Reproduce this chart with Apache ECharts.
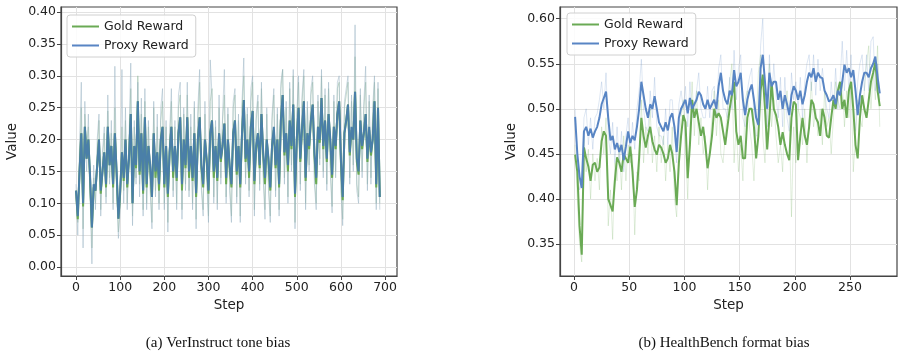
<!DOCTYPE html>
<html>
<head>
<meta charset="utf-8">
<script src="https://cdn.jsdelivr.net/npm/echarts@6/dist/echarts.min.js"></script>
<style>
  html, body { margin: 0; padding: 0; background: #fff; }
  #chart { width: 904px; height: 358px; }
</style>
</head>
<body>
<div id="chart"></div>
<script>
// ---- (a) VerInstruct tone bias : one point every 4 steps, starting at step 0
const leftStart = 0;
const leftEvery = 4;
const leftProxy = [0.12,0.08,0.15,0.21,0.10,0.22,0.17,0.20,0.14,0.062,
  0.13,0.12,0.16,0.20,0.12,0.15,0.18,0.13,0.22,0.16,
  0.19,0.13,0.21,0.15,0.076,0.12,0.18,0.14,0.20,0.13,
  0.17,0.24,0.10,0.19,0.16,0.26,0.15,0.21,0.12,0.235,
  0.13,0.19,0.16,0.11,0.21,0.15,0.18,0.13,0.20,0.22,
  0.13,0.19,0.115,0.18,0.22,0.15,0.19,0.14,0.21,0.235,
  0.13,0.20,0.16,0.235,0.15,0.19,0.14,0.21,0.116,0.20,
  0.235,0.16,0.13,0.20,0.17,0.12,0.21,0.23,0.15,0.19,
  0.14,0.21,0.17,0.19,0.225,0.14,0.20,0.16,0.13,0.21,
  0.23,0.15,0.19,0.13,0.21,0.262,0.17,0.20,0.15,0.22,
  0.245,0.135,0.19,0.21,0.16,0.24,0.18,0.14,0.20,0.17,
  0.125,0.19,0.22,0.16,0.20,0.13,0.23,0.27,0.18,0.21,
  0.16,0.23,0.19,0.255,0.115,0.20,0.25,0.17,0.22,0.26,
  0.14,0.21,0.19,0.23,0.255,0.18,0.14,0.22,0.20,0.265,
  0.19,0.23,0.17,0.24,0.20,0.145,0.22,0.19,0.24,0.26,
  0.17,0.11,0.21,0.23,0.255,0.18,0.22,0.20,0.275,0.17,
  0.15,0.23,0.19,0.21,0.24,0.17,0.22,0.18,0.20,0.26,
  0.13,0.25,0.11];
const leftGold = [0.12,0.075,0.15,0.21,0.095,0.22,0.17,0.20,0.135,0.062,
  0.125,0.12,0.16,0.20,0.115,0.15,0.18,0.125,0.22,0.16,
  0.19,0.125,0.21,0.145,0.076,0.115,0.18,0.135,0.20,0.125,
  0.17,0.24,0.10,0.19,0.155,0.26,0.145,0.21,0.115,0.235,
  0.125,0.19,0.155,0.11,0.21,0.14,0.18,0.12,0.20,0.22,
  0.125,0.19,0.11,0.18,0.22,0.14,0.19,0.135,0.21,0.235,
  0.12,0.20,0.155,0.235,0.14,0.19,0.135,0.21,0.11,0.20,
  0.235,0.155,0.125,0.20,0.165,0.115,0.21,0.23,0.14,0.19,
  0.135,0.21,0.165,0.19,0.225,0.13,0.20,0.155,0.125,0.21,
  0.23,0.145,0.19,0.125,0.21,0.262,0.165,0.20,0.14,0.22,
  0.245,0.13,0.185,0.21,0.155,0.24,0.175,0.13,0.20,0.165,
  0.12,0.19,0.215,0.155,0.20,0.125,0.23,0.27,0.175,0.21,
  0.15,0.23,0.185,0.255,0.11,0.20,0.25,0.165,0.215,0.26,
  0.135,0.21,0.185,0.23,0.255,0.175,0.13,0.22,0.195,0.265,
  0.185,0.23,0.165,0.24,0.195,0.14,0.22,0.185,0.24,0.26,
  0.165,0.105,0.21,0.23,0.255,0.175,0.215,0.20,0.275,0.165,
  0.145,0.23,0.185,0.21,0.24,0.165,0.215,0.175,0.20,0.26,
  0.125,0.25,0.11];
// raw (unsmoothed) values, drawn faint behind
const leftProxyRaw = [0.13,0.05,0.19,0.29,0.03,0.26,0.15,0.24,0.11,0.005,
  0.16,0.09,0.20,0.24,0.08,0.18,0.22,0.10,0.27,0.13,
  0.23,0.09,0.315,0.12,0.045,0.09,0.31,0.10,0.25,0.09,
  0.20,0.32,0.065,0.23,0.13,0.29,0.11,0.265,0.08,0.28,
  0.09,0.23,0.12,0.06,0.26,0.11,0.24,0.09,0.25,0.28,
  0.09,0.23,0.055,0.21,0.28,0.11,0.23,0.09,0.27,0.29,
  0.075,0.25,0.12,0.29,0.11,0.24,0.09,0.26,0.06,0.25,
  0.31,0.12,0.08,0.26,0.14,0.07,0.325,0.27,0.10,0.23,
  0.09,0.27,0.13,0.24,0.31,0.10,0.25,0.12,0.07,0.26,
  0.28,0.10,0.24,0.07,0.26,0.328,0.13,0.25,0.11,0.28,
  0.30,0.08,0.24,0.27,0.12,0.29,0.14,0.075,0.25,0.12,
  0.07,0.24,0.28,0.11,0.25,0.08,0.29,0.31,0.13,0.26,
  0.10,0.29,0.15,0.31,0.06,0.24,0.30,0.12,0.27,0.31,
  0.09,0.26,0.15,0.28,0.30,0.13,0.09,0.27,0.16,0.31,
  0.14,0.28,0.12,0.29,0.15,0.085,0.27,0.14,0.29,0.30,
  0.12,0.065,0.26,0.28,0.30,0.13,0.27,0.15,0.38,0.12,
  0.10,0.28,0.14,0.26,0.315,0.12,0.27,0.13,0.25,0.30,
  0.09,0.29,0.09];
const leftGoldRaw = [0.11,0.07,0.17,0.25,0.06,0.24,0.19,0.22,0.12,0.03,
  0.14,0.10,0.18,0.23,0.09,0.17,0.21,0.11,0.245,0.14,
  0.21,0.10,0.25,0.13,0.055,0.10,0.22,0.12,0.23,0.10,
  0.19,0.28,0.08,0.22,0.14,0.30,0.13,0.24,0.09,0.26,
  0.10,0.22,0.13,0.07,0.25,0.12,0.22,0.10,0.23,0.26,
  0.10,0.22,0.07,0.20,0.26,0.12,0.22,0.10,0.25,0.27,
  0.09,0.24,0.13,0.27,0.12,0.22,0.10,0.25,0.075,0.23,
  0.29,0.13,0.09,0.24,0.15,0.08,0.26,0.28,0.11,0.22,
  0.10,0.25,0.14,0.23,0.27,0.11,0.24,0.13,0.08,0.25,
  0.27,0.11,0.23,0.08,0.25,0.30,0.14,0.24,0.12,0.26,
  0.29,0.09,0.23,0.26,0.13,0.28,0.15,0.09,0.24,0.13,
  0.08,0.23,0.27,0.12,0.24,0.09,0.28,0.31,0.14,0.25,
  0.11,0.28,0.16,0.30,0.07,0.23,0.29,0.13,0.26,0.30,
  0.10,0.25,0.16,0.27,0.29,0.14,0.10,0.26,0.17,0.30,
  0.15,0.27,0.13,0.28,0.16,0.095,0.26,0.15,0.28,0.29,
  0.13,0.075,0.25,0.27,0.29,0.14,0.26,0.16,0.33,0.13,
  0.11,0.27,0.15,0.25,0.29,0.13,0.26,0.14,0.24,0.29,
  0.10,0.28,0.10];

// ---- (b) HealthBench format bias : one point every 2 steps, starting at step 1
const rightStart = 1;
const rightEvery = 2;
const rightProxy = [0.491,0.45,0.425,0.412,0.475,0.48,0.47,0.478,0.468,0.475,
  0.48,0.49,0.505,0.512,0.519,0.49,0.465,0.47,0.455,0.462,
  0.452,0.46,0.443,0.458,0.475,0.462,0.47,0.465,0.48,0.50,
  0.53,0.515,0.50,0.49,0.505,0.50,0.514,0.50,0.485,0.48,
  0.475,0.485,0.476,0.49,0.495,0.48,0.452,0.49,0.50,0.505,
  0.51,0.495,0.512,0.50,0.505,0.51,0.519,0.515,0.505,0.50,
  0.51,0.50,0.505,0.51,0.50,0.525,0.54,0.52,0.51,0.505,
  0.52,0.515,0.543,0.525,0.53,0.54,0.51,0.493,0.51,0.52,
  0.527,0.51,0.49,0.482,0.545,0.56,0.53,0.50,0.54,0.525,
  0.53,0.53,0.51,0.52,0.50,0.515,0.505,0.493,0.515,0.525,
  0.52,0.51,0.52,0.505,0.515,0.53,0.54,0.535,0.545,0.53,
  0.54,0.535,0.534,0.52,0.515,0.508,0.51,0.515,0.505,0.52,
  0.515,0.53,0.549,0.54,0.545,0.535,0.543,0.52,0.493,0.515,
  0.53,0.54,0.54,0.535,0.545,0.55,0.558,0.535,0.517];
const rightGold = [0.449,0.43,0.37,0.338,0.457,0.445,0.436,0.42,0.438,0.44,
  0.43,0.435,0.464,0.475,0.47,0.40,0.393,0.386,0.42,0.446,
  0.44,0.43,0.45,0.445,0.44,0.458,0.43,0.391,0.41,0.446,
  0.49,0.47,0.457,0.47,0.48,0.464,0.455,0.449,0.46,0.457,
  0.45,0.44,0.445,0.46,0.45,0.43,0.393,0.44,0.47,0.493,
  0.485,0.423,0.46,0.51,0.49,0.50,0.485,0.47,0.48,0.46,
  0.434,0.45,0.47,0.50,0.49,0.495,0.49,0.475,0.46,0.48,
  0.50,0.515,0.53,0.475,0.46,0.47,0.445,0.445,0.49,0.50,
  0.50,0.48,0.445,0.47,0.52,0.538,0.50,0.455,0.49,0.53,
  0.50,0.493,0.48,0.46,0.474,0.46,0.45,0.443,0.49,0.508,
  0.505,0.443,0.47,0.49,0.47,0.46,0.48,0.51,0.505,0.49,
  0.485,0.47,0.50,0.49,0.47,0.468,0.49,0.51,0.50,0.52,
  0.53,0.50,0.51,0.49,0.52,0.53,0.50,0.46,0.445,0.49,
  0.515,0.50,0.49,0.51,0.53,0.54,0.552,0.52,0.503];
const rightProxyRaw = [0.50,0.44,0.41,0.42,0.49,0.50,0.46,0.49,0.455,0.49,
  0.495,0.51,0.53,0.50,0.54,0.47,0.45,0.485,0.44,0.48,
  0.44,0.475,0.43,0.47,0.49,0.45,0.485,0.455,0.50,0.52,
  0.555,0.50,0.48,0.475,0.52,0.49,0.535,0.48,0.47,0.47,
  0.46,0.50,0.46,0.51,0.51,0.47,0.44,0.505,0.52,0.50,
  0.525,0.48,0.53,0.49,0.50,0.52,0.54,0.50,0.49,0.49,
  0.525,0.49,0.52,0.525,0.49,0.545,0.56,0.50,0.50,0.49,
  0.535,0.50,0.565,0.51,0.545,0.56,0.49,0.48,0.52,0.535,
  0.545,0.49,0.47,0.47,0.57,0.60,0.51,0.48,0.56,0.51,
  0.55,0.515,0.49,0.535,0.48,0.535,0.49,0.475,0.54,0.51,
  0.53,0.50,0.535,0.49,0.53,0.55,0.56,0.52,0.56,0.515,
  0.555,0.52,0.545,0.52,0.50,0.49,0.53,0.50,0.545,0.50,
  0.53,0.575,0.52,0.565,0.52,0.56,0.50,0.475,0.53,0.55,
  0.56,0.52,0.56,0.52,0.575,0.58,0.52,0.55,0.51];
const rightGoldRaw = [0.46,0.40,0.35,0.33,0.47,0.43,0.455,0.40,0.45,0.42,
  0.445,0.41,0.48,0.45,0.49,0.37,0.41,0.355,0.44,0.42,
  0.46,0.41,0.47,0.42,0.46,0.44,0.45,0.36,0.43,0.42,
  0.51,0.44,0.48,0.45,0.50,0.44,0.47,0.43,0.48,0.44,
  0.47,0.42,0.46,0.43,0.48,0.40,0.38,0.46,0.49,0.51,
  0.46,0.40,0.48,0.53,0.47,0.52,0.46,0.49,0.45,0.47,
  0.41,0.46,0.49,0.52,0.47,0.51,0.45,0.44,0.47,0.50,
  0.53,0.55,0.44,0.48,0.43,0.46,0.42,0.51,0.52,0.48,
  0.46,0.42,0.48,0.54,0.56,0.47,0.44,0.51,0.55,0.48,
  0.51,0.47,0.44,0.46,0.43,0.50,0.52,0.49,0.38,0.48,
  0.44,0.50,0.49,0.46,0.50,0.44,0.49,0.53,0.48,0.50,
  0.47,0.50,0.46,0.52,0.48,0.49,0.45,0.49,0.53,0.51,
  0.50,0.53,0.48,0.52,0.49,0.53,0.43,0.47,0.51,0.49,
  0.48,0.52,0.55,0.57,0.50,0.54,0.51,0.57,0.48];

// tick labels
const leftXTicks = [0, 100, 200, 300, 400, 500, 600, 700];
const leftYTicks = [0, 0.05, 0.10, 0.15, 0.20, 0.25, 0.30, 0.35, 0.40];
const rightXTicks = [0, 50, 100, 150, 200, 250];
const rightYTicks = [0.35, 0.40, 0.45, 0.50, 0.55, 0.60];

const GREEN = '#6aaa55';
const BLUE = '#5885c4';
const FONT = 'DejaVu Sans';

const pairs = (start, every, arr) => arr.map((v, i) => [start + i * every, v]);

const myChart = echarts.init(document.getElementById('chart'), null, {renderer: 'canvas'});

const xAxisOf = (gridIndex, min, max, ticks) => ({
  type: 'value', gridIndex, min, max,
  name: 'Step', nameLocation: 'middle', nameGap: 22,
  nameTextStyle: {fontFamily: FONT, fontSize: 13.5, color: '#222'},
  axisLine: {show: true, onZero: false, lineStyle: {color: '#444', width: 1.2}},
  axisTick: {show: true, length: 4, customValues: ticks, lineStyle: {color: '#444'}},
  axisLabel: {customValues: ticks, fontFamily: FONT, fontSize: 12.5, color: '#222', margin: 5},
  splitLine: {show: true, lineStyle: {color: '#e2e2e2', width: 1}}
});
const yAxisOf = (gridIndex, min, max, ticks) => ({
  type: 'value', gridIndex, min, max,
  name: 'Value', nameLocation: 'middle', nameGap: 42,
  nameTextStyle: {fontFamily: FONT, fontSize: 13.5, color: '#222'},
  axisLine: {show: true, onZero: false, lineStyle: {color: '#444', width: 1.2}},
  axisTick: {show: true, length: 4, customValues: ticks, lineStyle: {color: '#444'}},
  axisLabel: {customValues: ticks, fontFamily: FONT, fontSize: 12.5, color: '#222', margin: 5,
    formatter: v => v.toFixed(2)},
  splitLine: {show: true, lineStyle: {color: '#e2e2e2', width: 1}}
});

const line = (name, xi, data, color, width, opacity, z) => ({
  name, type: 'line', xAxisIndex: xi, yAxisIndex: xi, data,
  symbol: 'none', showSymbol: false, z,
  itemStyle: {color},
  lineStyle: {color, width, opacity}
});

// flat bars stand in for matplotlib's line handles
const legendOf = (left, top) => ({
  left, top, orient: 'vertical',
  data: [
    {name: 'Gold Reward', icon: 'rect', itemStyle: {color: GREEN}},
    {name: 'Proxy Reward', icon: 'rect', itemStyle: {color: BLUE}}
  ],
  itemWidth: 27, itemHeight: 2, itemGap: 6,
  padding: [5, 7, 5, 5],
  backgroundColor: 'rgba(255,255,255,0.85)',
  borderColor: '#d0d0d0', borderWidth: 1, borderRadius: 3,
  textStyle: {fontFamily: FONT, fontSize: 12.5, color: '#222'}
});

const option = {
  animation: false,
  backgroundColor: '#fff',
  grid: [
    {left: 61, top: 7, width: 336, height: 269, show: true, borderColor: '#444', borderWidth: 1.2},
    {left: 560, top: 7, width: 337, height: 269, show: true, borderColor: '#444', borderWidth: 1.2}
  ],
  xAxis: [
    xAxisOf(0, -34, 727, leftXTicks),
    xAxisOf(1, -12.7, 292.6, rightXTicks)
  ],
  yAxis: [
    yAxisOf(0, -0.014, 0.408, leftYTicks),
    yAxisOf(1, 0.3144, 0.613, rightYTicks)
  ],
  legend: [legendOf(67, 15), legendOf(567, 13)],
  series: [
    line('Gold Raw L', 0, pairs(leftStart, leftEvery, leftGoldRaw), '#8fb89a', 1, 0.5, 1),
    line('Proxy Raw L', 0, pairs(leftStart, leftEvery, leftProxyRaw), '#9ab4c4', 1, 0.5, 1),
    line('Gold Reward', 0, pairs(leftStart, leftEvery, leftGold), GREEN, 2, 1, 2),
    line('Proxy Reward', 0, pairs(leftStart, leftEvery, leftProxy), '#4a7fa8', 2, 1, 3),
    line('Gold Raw R', 1, pairs(rightStart, rightEvery, rightGoldRaw), GREEN, 1, 0.2, 1),
    line('Proxy Raw R', 1, pairs(rightStart, rightEvery, rightProxyRaw), BLUE, 1, 0.2, 1),
    line('Gold Reward', 1, pairs(rightStart, rightEvery, rightGold), GREEN, 2, 1, 2),
    line('Proxy Reward', 1, pairs(rightStart, rightEvery, rightProxy), BLUE, 2, 1, 3)
  ],
  graphic: [
    {type: 'text', x: 218, y: 343,
      style: {text: '(a) VerInstruct tone bias', fill: '#111', font: '15px "Liberation Serif"',
        textAlign: 'center', textVerticalAlign: 'middle'}},
    {type: 'text', x: 724, y: 343,
      style: {text: '(b) HealthBench format bias', fill: '#111', font: '15px "Liberation Serif"',
        textAlign: 'center', textVerticalAlign: 'middle'}}
  ]
};
myChart.setOption(option);
</script>
</body>
</html>
